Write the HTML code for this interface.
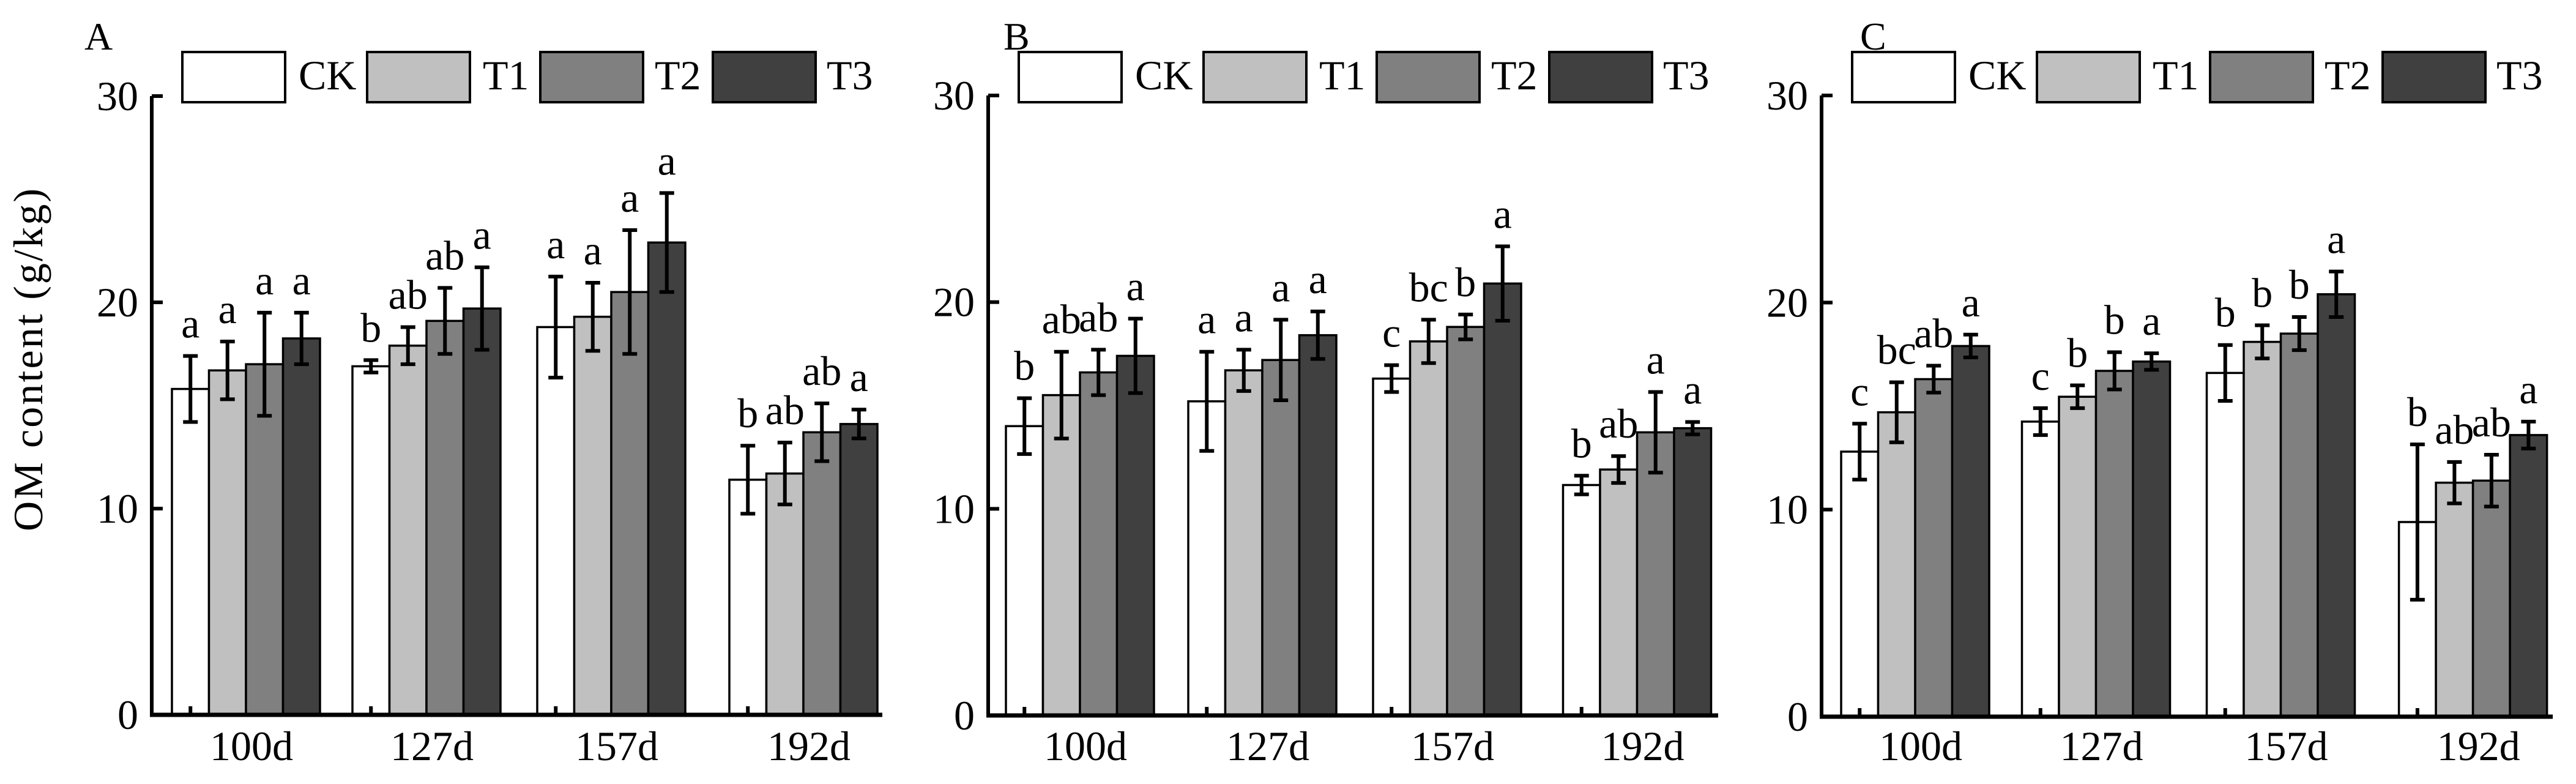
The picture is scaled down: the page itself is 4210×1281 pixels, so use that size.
<!DOCTYPE html>
<html><head><meta charset="utf-8"><style>
html,body{margin:0;padding:0;background:#fff;}
svg, svg text{font-family:"Liberation Serif","Times New Roman",serif;}
</style></head><body>
<svg id="chart" width="4210" height="1276" viewBox="0 0 4210 1276" xmlns="http://www.w3.org/2000/svg" font-family="Liberation Serif, serif">
<text x="69" y="588" font-size="68" font-family="Liberation Serif, serif" text-anchor="middle" transform="rotate(-90 69 588)" textLength="560">OM content (g/kg)</text>
</svg>
<script>
const categories = ["100d","127d","157d","192d"];
const seriesNames = ["CK","T1","T2","T3"];
const yTicks = [0,10,20,30];
const panelNames = ["A","B","C"];
const meansA = [[15.8,16.7,17.0,18.25],[16.9,17.9,19.1,19.7],[18.8,19.3,20.5,22.9],[11.4,11.7,13.7,14.1]];
const errA   = [[1.6,1.4,2.5,1.25],[0.3,0.9,1.6,2.0],[2.45,1.65,3.0,2.4],[1.65,1.5,1.4,0.7]];
const lettersA = [["a","a","a","a"],["b","ab","ab","a"],["a","a","a","a"],["b","ab","ab","a"]];
const meansB = [[14.0,15.5,16.6,17.4],[15.2,16.7,17.2,18.4],[16.3,18.1,18.8,20.9],[11.15,11.9,13.7,13.9]];
const errB   = [[1.35,2.1,1.1,1.8],[2.4,1.0,1.95,1.15],[0.65,1.05,0.6,1.8],[0.45,0.65,1.95,0.3]];
const lettersB = [["b","ab","ab","a"],["a","a","a","a"],["c","bc","b","a"],["b","ab","a","a"]];
const meansC = [[12.8,14.7,16.3,17.9],[14.25,15.45,16.7,17.15],[16.6,18.1,18.5,20.4],[9.4,11.3,11.4,13.6]];
const errC   = [[1.35,1.45,0.65,0.55],[0.65,0.55,0.9,0.4],[1.35,0.8,0.8,1.1],[3.75,1.0,1.25,0.65]];
const lettersC = [["c","bc","ab","a"],["c","b","b","a"],["b","b","b","a"],["b","ab","ab","a"]];

const NS="http://www.w3.org/2000/svg";
const svg=document.getElementById('chart');
function mk(tag,attrs){const e=document.createElementNS(NS,tag);for(const k in attrs)e.setAttribute(k,attrs[k]);if(tag==='text')e.setAttribute('font-family','Liberation Serif, serif');svg.appendChild(e);return e;}
const fills=["#ffffff","#c0c0c0","#808080","#404040"];
const panels=[
 {axisX:248,right:1442,zero:1168,top:157,groups:[281,576,878,1192],off:0,labelX:138,means:meansA,errs:errA,letters:lettersA},
 {axisX:1615,right:2808,zero:1169,top:156,groups:[1644,1942,2244,2554.5],off:1367,labelX:1640,means:meansB,errs:errB,letters:lettersB},
 {axisX:2977,right:4172,zero:1171,top:156,groups:[3009,3304.5,3606.5,3920.6],off:2729,labelX:3040,means:meansC,errs:errC,letters:lettersC}
];
const BW=60.5;
const legBox=[298,600,883,1165], legText=[488,789,1070,1351];
panels.forEach((p,pi)=>{
  const y=v=>p.zero-(p.zero-p.top)*v/30;
  let t=mk('text',{x:p.labelX,y:81,'font-size':64});t.textContent=panelNames[pi];
  
  
  seriesNames.forEach((s,si)=>{
    let r=mk('rect',{x:legBox[si]+p.off,y:85,width:168,height:82,fill:fills[si],stroke:'#000','stroke-width':4});
    
    
    let lt=mk('text',{x:legText[si]+p.off,y:146,'font-size':68});lt.textContent=s;
    
    
  });
  categories.forEach((c,gi)=>{
    seriesNames.forEach((s,si)=>{
      const v=p.means[gi][si], e=p.errs[gi][si];
      const x=p.groups[gi]+si*BW;
      let b=mk('rect',{x:x,y:y(v),width:BW,height:p.zero-y(v),fill:fills[si],stroke:'#000','stroke-width':3.5});
      
      
      const cx=x+BW/2;
      let eb=mk('path',{d:`M${cx},${y(v+e)}V${y(v-e)}M${cx-12},${y(v+e)}H${cx+12}M${cx-12},${y(v-e)}H${cx+12}`,stroke:'#000','stroke-width':6,fill:'none'});
      
      
      let lt=mk('text',{x:cx,y:y(v+e)-30,'font-size':68,'text-anchor':'middle'});lt.textContent=p.letters[gi][si];
      
      
    });
    let tk=mk('rect',{x:p.groups[gi]+BW/2-3,y:p.zero-14,width:6,height:14,fill:'#000'});
    
    
    let xl=mk('text',{x:p.groups[gi]+2*BW+9,y:1242,'font-size':68,'text-anchor':'middle'});xl.textContent=c;
    
    
  });
  let ya=mk('path',{d:`M${p.axisX},${p.top}V${p.zero+3}`,stroke:'#000','stroke-width':6,fill:'none'});
  
  
  let xa=mk('path',{d:`M${p.axisX-3},${p.zero}H${p.right}`,stroke:'#000','stroke-width':7,fill:'none'});
  
  
  yTicks.forEach(v=>{
    let tl=mk('path',{d:`M${p.axisX},${y(v)}H${p.axisX+18}`,stroke:'#000','stroke-width':6});
    
    
    let tt=mk('text',{x:p.axisX-22,y:y(v)+23,'font-size':68,'text-anchor':'end'});tt.textContent=v;
    
    
  });
});
</script>
</body></html>
